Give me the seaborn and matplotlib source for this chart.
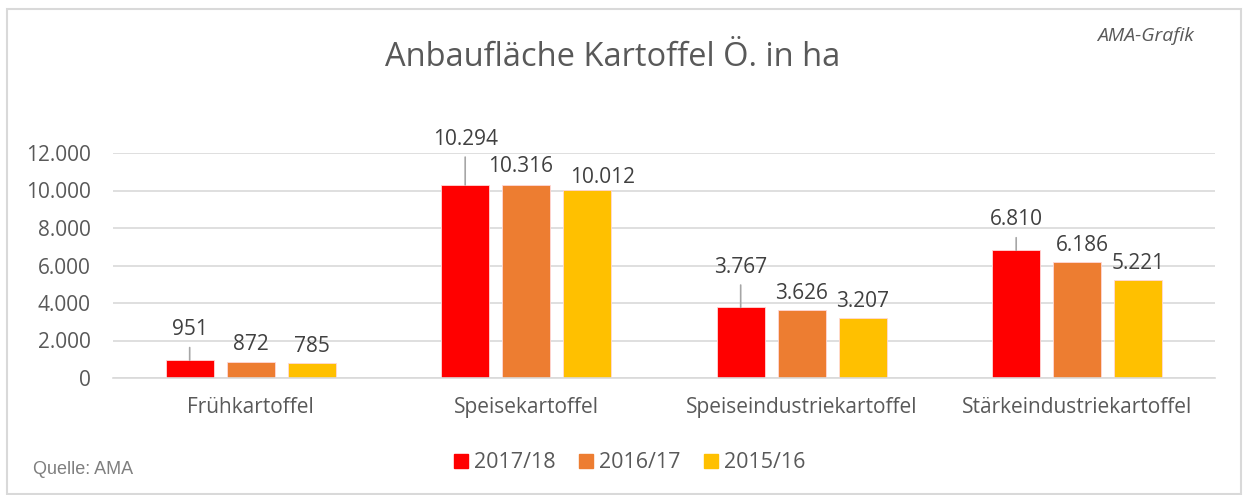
import matplotlib
matplotlib.use("Agg")
from matplotlib import pyplot as plt
from matplotlib.patches import Rectangle
import pandas as pd
import seaborn as sns

# data
sorten = ['Frühkartoffel', 'Speisekartoffel', 'Speiseindustriekartoffel', 'Stärkeindustriekartoffel']
jahre = ['2017/18', '2016/17', '2015/16']
werte_2017 = [951, 10294, 3767, 6810]
werte_2016 = [872, 10316, 3626, 6186]
werte_2015 = [785, 10012, 3207, 5221]
y_ticks = [0, 2000, 4000, 6000, 8000, 10000, 12000]

farben = ['#FF0000', '#ED7D31', '#FFC000']
grau = '#595959'
dunkel = '#404040'

df = pd.DataFrame({
    'Sorte': sorten * 3,
    'Jahr': [j for j in jahre for _ in sorten],
    'Fläche': werte_2017 + werte_2016 + werte_2015,
})

def fmt(v):
    return f"{v:,}".replace(",", ".")

sns.set_style("white")
plt.rcParams['font.family'] = ['Open Sans', 'DejaVu Sans']

fig = plt.figure(figsize=(12.44, 4.95), dpi=100)
ax = fig.add_axes([113 / 1244, 117 / 495, 1102 / 1244, 225 / 495])

sns.barplot(data=df, x='Sorte', y='Fläche', hue='Jahr', hue_order=jahre,
            palette=farben, saturation=1, width=0.665, gap=0.21, legend=False, ax=ax,
            edgecolor='#FFD8D8', linewidth=0.6)

ax.set_ylim(0, 12000)
ax.set_yticks(y_ticks)
ax.set_yticklabels([fmt(t) for t in y_ticks])
ax.set_xlabel('')
ax.set_ylabel('')
ax.yaxis.grid(True, color='#D9D9D9', lw=1.2)
ax.set_axisbelow(True)
for s in ['top', 'right', 'left']:
    ax.spines[s].set_visible(False)
ax.spines['bottom'].set_color('#D9D9D9')
ax.spines['bottom'].set_linewidth(1.2)
ax.tick_params(axis='both', length=0, colors=grau, labelsize=15)
ax.tick_params(axis='y', pad=16)
ax.tick_params(axis='x', pad=14)

# data labels: the first series sits higher with a leader line,
# a few labels were nudged sideways in the original to avoid overlap
red_offsets = [22, 33, 29, 22]
nudge = {(1, 1): (-4, 13), (2, 1): (11, 9.5), (1, 3): (4, 12)}
for i, cont in enumerate(ax.containers):
    for j, bar in enumerate(cont):
        x = bar.get_x() + bar.get_width() / 2
        h = bar.get_height()
        if i == 0:
            ax.annotate(fmt(int(h)), (x, h), xytext=(0, red_offsets[j]),
                        textcoords='offset points', ha='center', va='center',
                        fontsize=15, color=dunkel,
                        arrowprops=dict(arrowstyle='-', color='#A6A6A6', lw=1.2,
                                        shrinkA=3, shrinkB=0))
        else:
            ax.annotate(fmt(int(h)), (x, h), xytext=nudge.get((i, j), (0, 12)),
                        textcoords='offset points', ha='center', va='center',
                        fontsize=15, color=dunkel)

handles = [Rectangle((0, 0), 1, 1, color=c) for c in farben]
fig.legend(handles, jahre, loc='center', bbox_to_anchor=(630 / 1244, 1 - 463 / 495),
           ncol=3, frameon=False, fontsize=15.5, handlelength=0.62, handleheight=0.62,
           handletextpad=0.3, columnspacing=1.1, labelcolor=grau)

fig.text(613 / 1244, 1 - 57 / 495, 'Anbaufläche Kartoffel Ö. in ha', ha='center', va='center',
         fontsize=23.5, color=grau)
fig.text(1145 / 1244, 1 - 36 / 495, 'AMA-Grafik', ha='center', va='center',
         fontsize=14, color=grau, style='italic')
fig.text(33 / 1244, 1 - 470 / 495, 'Quelle: AMA', ha='left', va='center',
         fontsize=13, color='#7F7F7F', family='Liberation Sans')

fig.add_artist(Rectangle((7 / 1244, 0.002), 1234 / 1244, 0.98, transform=fig.transFigure,
                         fill=False, ec='#D9D9D9', lw=1.5))

plt.savefig('out.png', dpi=100)
